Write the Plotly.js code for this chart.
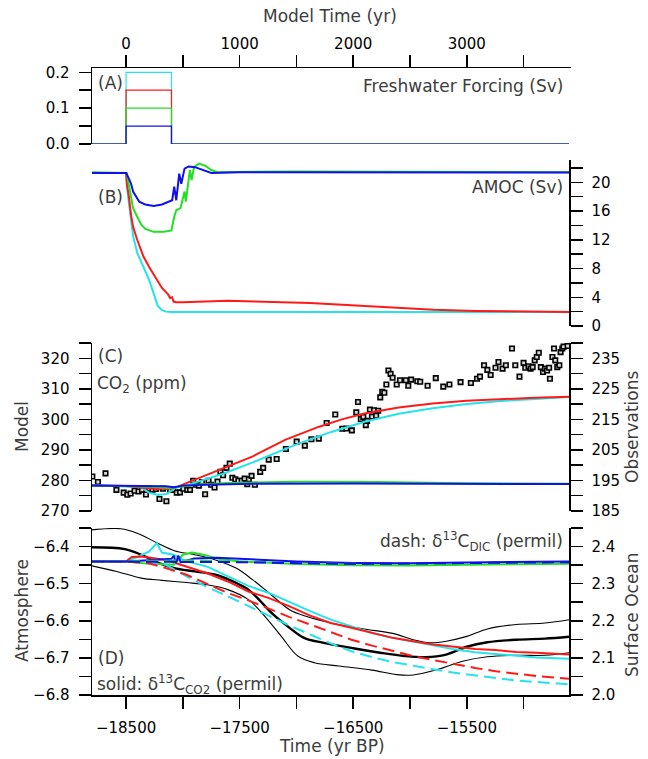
<!DOCTYPE html>
<html><head><meta charset="utf-8">
<script src="https://cdn.plot.ly/plotly-3.0.1.min.js"></script>
<style>html,body{margin:0;padding:0;background:#fff}#chart{width:648px;height:759px}</style>
</head><body><div id="chart"></div>
<script>
// ---------- colours ----------
const colCyan = '#22e4ea', colRed = '#ff1a1a', colGreen = '#22e022', colBlue = '#1010ee';

// ---------- Panel A: freshwater forcing (model years, Sv) ----------
const forcingTime  = [-300, 0, 0, 400, 400, 3900];
const forcingCyan  = [0, 0, 0.20, 0.20, 0, 0];
const forcingRed   = [0, 0, 0.15, 0.15, 0, 0];
const forcingGreen = [0, 0, 0.10, 0.10, 0, 0];
const forcingBlue  = [0, 0, 0.05, 0.05, 0, 0];

// ---------- Panel B: AMOC (model years, Sv) ----------
const amocBlueT  = [-300,0,25,44,62,116,170,243,316,388,406,424,442,468,486,515,551,606,678,751,1000,2000,3000,3900];
const amocBlue   = [21.3,21.3,20.5,19.8,18.7,17.3,16.9,16.7,16.9,17.3,17.5,19.4,17.5,21.2,19.8,21.9,22.2,22.1,21.7,21.3,21.4,21.4,21.35,21.35];
const amocGreenT = [-300,0,7,25,44,62,98,134,170,243,334,399,424,442,479,497,515,526,551,562,577,598,642,696,751,805,1500,2500,3900];
const amocGreen  = [21.4,21.3,21.3,19.6,18.0,16.4,15.2,14.1,13.5,13.1,13.1,13.3,15.2,16.1,16.4,17.5,18.7,17.3,20.0,21.7,20.3,22.1,22.6,22.3,21.7,21.4,21.5,21.45,21.4];
const amocRedT   = [-300,0,7,25,44,62,98,152,207,261,316,370,388,406,418,440,500,896,1258,1621,1984,2347,2709,3072,3435,3900];
const amocRed    = [21.3,21.3,19.8,18.0,15.4,13.8,12.0,9.7,8.1,6.7,5.3,4.4,3.9,4.0,3.4,3.3,3.3,3.5,3.4,3.2,2.9,2.6,2.25,2.1,2.0,1.95];
const amocCyanT  = [-300,0,7,25,44,62,98,170,207,250,279,316,352,400,1000,2000,3000,3900];
const amocCyan   = [21.3,21.3,19.4,17.1,14.8,12.5,10.2,7.6,6.25,4.2,2.8,2.2,2.0,1.95,1.95,1.95,1.95,1.95];

// ---------- Panel C: CO2 model (model years, ppm) ----------
const co2BlueT  = [-300,0,200,350,420,500,700,1100,2000,3000,3900];
const co2Blue   = [278.3,278.2,278.0,278.1,277.8,278.3,278.6,278.9,279.0,278.9,278.8];
const co2GreenT = [-300,0,200,380,480,600,900,1500,2200,3000,3900];
const co2Green  = [278.3,278.2,277.9,277.5,278.0,278.6,279.2,279.6,279.5,279.1,278.9];
const co2RedT   = [-300,0,150,270,380,446,563,854,1116,1400,1700,1900,2100,2400,2700,3000,3300,3600,3900];
const co2Red    = [278.3,278.2,277.6,277.2,277.3,277.8,279.6,284.0,287.9,293.3,297.6,300.0,301.9,303.9,305.2,306.1,306.7,307.1,307.4];
const co2CyanT  = [-300,0,125,200,283,360,431,563,854,1116,1248,1500,1800,2100,2400,2700,3000,3300,3600,3900];
const co2Cyan   = [278.3,278.2,278.0,276.0,275.2,275.6,277.5,278.8,282.2,285.9,288.0,291.8,295.8,299.2,301.8,303.6,305.0,306.0,306.7,307.3];

// ---------- Panel C: CO2 observations (yr BP, ppm) ----------
const obsYearBP = [-18797,-18748,-18681,-18585,-18521,-18489,-18460,-18425,-18390,-18360,-18325,-18296,-18267,-18238,-18206,-18176,-18145,-18112,-18084,-18054,-18025,-17996,-17961,-17937,-17909,-17885,-17859,-17832,-17804,-17774,-17751,-17721,-17695,-17669,-17646,-17616,-17587,-17564,-17538,-17511,-17482,-17456,-17433,-17419,-17395,-17366,-17319,-17293,-17244,-17174,
  -17093,-16998,-16926,-16868,-16803,-16734,-16658,-16596,-16560,-16512,-16473,-16458,-16433,-16411,-16389,-16378,-16353,-16335,-16317,-16298,-16280,-16262,-16244,-16226,-16208,-16190,-16171,-16153,-16117,-16088,-16037,-16015,-15990,-15936,-15910,-15845,-15773,-15707,-15653,-15555,-15464,-15410,-15384,-15348,-15319,-15290,-15247,-15221,-15185,-15156,-15102,-15073,-15036,-15000,-14985,-14956,-14938,-14920,-14902,-14884,-14866,-14848,-14829,-14811,-14793,-14775,-14768,-14746,-14732,-14721,-14703,-14685,-14674,-14659,-14648,-14612];
const obsCO2 = [196.3,194.5,197.3,191.9,191.0,190.3,190.7,191.6,191.4,191.9,190.4,192.3,192.0,192.2,188.9,192.3,188.2,191.9,191.9,191.0,191.1,192.3,191.9,191.9,194.9,193.6,193.3,194.5,190.5,194.9,193.6,192.7,194.6,197.8,196.7,199.1,200.5,195.9,195.4,194.9,194.9,195.6,193.8,195.4,196.5,193.6,197.8,199.1,201.8,202.0,
  205.3,207.7,206.4,208.5,208.7,213.8,216.6,211.9,212.0,211.4,217.3,220.7,215.1,215.8,213.1,214.5,218.2,215.9,218.0,216.2,217.8,222.2,224.0,223.7,226.4,231.0,229.9,228.6,226.4,227.8,227.8,226.0,228.0,227.5,227.3,226.0,228.5,225.7,226.4,227.2,226.9,228.3,229.0,232.7,231.2,229.5,231.9,233.8,231.6,232.7,238.2,232.7,229.0,233.5,231.9,232.4,231.6,232.1,234.3,235.4,236.8,232.1,230.5,231.6,231.0,231.9,228.3,235.4,238.2,234.3,232.1,232.7,237.0,238.2,238.8,239.0];

// ---------- Panel D: d13C model, solid = atmosphere (left axis), dash = surface ocean DIC (right axis) ----------
const d13cRedT   = [-300,0,50,134,352,533,714,896,1077,1258,1440,1621,1802,1984,2165,2347,2528,2709,2891,3072,3253,3435,3616,3900];
const d13cRed    = [-6.44,-6.44,-6.428,-6.427,-6.436,-6.454,-6.472,-6.494,-6.521,-6.539,-6.561,-6.586,-6.606,-6.619,-6.633,-6.646,-6.655,-6.664,-6.670,-6.676,-6.679,-6.684,-6.686,-6.691];
const d13cCyanT  = [-300,0,100,200,272,315,420,533,714,896,1077,1258,1440,1621,1802,1984,2165,2347,2528,2709,2891,3072,3253,3435,3616,3900];
const d13cCyan   = [-6.44,-6.44,-6.428,-6.414,-6.391,-6.416,-6.422,-6.440,-6.454,-6.480,-6.506,-6.525,-6.550,-6.574,-6.597,-6.615,-6.633,-6.646,-6.657,-6.668,-6.677,-6.685,-6.690,-6.695,-6.699,-6.702];
const d13cGreenT = [-300,0,150,300,420,500,580,680,800,1000,1500,2000,2500,3000,3500,3900];
const d13cGreen  = [-6.44,-6.44,-6.445,-6.447,-6.449,-6.422,-6.416,-6.422,-6.432,-6.440,-6.447,-6.450,-6.451,-6.449,-6.447,-6.446];
const d13cBlueT  = [-300,0,200,400,420,440,460,480,600,800,1000,1500,2000,2500,3000,3900];
const d13cBlue   = [-6.44,-6.44,-6.437,-6.433,-6.425,-6.445,-6.424,-6.442,-6.432,-6.430,-6.433,-6.440,-6.444,-6.445,-6.443,-6.440];

const dicRedT   = [-300,0,200,350,533,714,896,1077,1258,1440,1621,1802,1984,2165,2347,2528,2709,2891,3072,3253,3435,3616,3900];
const dicRed    = [2.36,2.36,2.355,2.342,2.324,2.300,2.275,2.255,2.232,2.210,2.190,2.169,2.149,2.133,2.118,2.105,2.094,2.083,2.073,2.064,2.057,2.051,2.044];
const dicCyanT  = [-300,0,200,350,533,714,896,1077,1258,1440,1621,1802,1984,2165,2347,2528,2709,2891,3072,3253,3435,3616,3900];
const dicCyan   = [2.36,2.36,2.355,2.351,2.320,2.291,2.266,2.239,2.212,2.187,2.163,2.139,2.118,2.102,2.089,2.078,2.069,2.060,2.053,2.046,2.039,2.035,2.029];
const dicGreenT = [-300,600,1500,2500,3900];
const dicGreen  = [2.36,2.363,2.355,2.352,2.356];
const dicBlueT  = [-300,1000,2000,3000,3900];
const dicBlue   = [2.36,2.358,2.353,2.355,2.358];

// ---------- Panel D: d13C of CO2 observations (yr BP, permil) ----------
const iceMidBP  = [-18800,-18511,-18366,-18221,-18076,-17894,-17713,-17532,-17423,-17314,-17205,-17060,-16933,-16770,-16516,-16262,-16045,-15863,-15682,-15500,-15319,-15065,-14811,-14600];
const iceMid    = [-6.402,-6.407,-6.422,-6.443,-6.458,-6.467,-6.476,-6.498,-6.516,-6.548,-6.583,-6.619,-6.646,-6.659,-6.673,-6.686,-6.695,-6.698,-6.691,-6.670,-6.658,-6.651,-6.648,-6.643];
const iceHighBP = [-18800,-18547,-18402,-18221,-18076,-17894,-17713,-17532,-17387,-17241,-17060,-16915,-16697,-16407,-16153,-15972,-15827,-15682,-15500,-15319,-15065,-14811,-14600];
const iceHigh   = [-6.355,-6.352,-6.364,-6.391,-6.411,-6.422,-6.436,-6.458,-6.489,-6.525,-6.570,-6.588,-6.606,-6.622,-6.634,-6.651,-6.659,-6.655,-6.642,-6.622,-6.610,-6.606,-6.597];
const iceLowBP  = [-18800,-18583,-18366,-18184,-17967,-17785,-17604,-17423,-17278,-17133,-16988,-16842,-16625,-16335,-16117,-15972,-15754,-15537,-15319,-15065,-14811,-14600];
const iceLow    = [-6.452,-6.467,-6.485,-6.491,-6.497,-6.503,-6.516,-6.543,-6.588,-6.642,-6.695,-6.713,-6.722,-6.733,-6.745,-6.746,-6.731,-6.709,-6.697,-6.693,-6.693,-6.686];

// ---------- helpers ----------
function line(x, y, xa, ya, color, width, dash, shape) {
  return {type:'scatter', mode:'lines', x:x, y:y, xaxis:xa, yaxis:ya,
    line:{color:color, width:width, dash:dash||'solid', shape:shape||'linear'}, hoverinfo:'skip'};
}
const DASH = '12px,6px';
const traces = [
  // A
  line(forcingTime, forcingCyan,  'x2','y6', colCyan, 1.2),
  line(forcingTime, forcingRed,   'x2','y6', colRed, 1.2),
  line(forcingTime, forcingGreen, 'x2','y6', colGreen, 1.2),
  line(forcingTime, forcingBlue,  'x2','y6', colBlue, 1.2),
  // B
  line(amocCyanT, amocCyan,   'x2','y5', colCyan, 2),
  line(amocRedT, amocRed,     'x2','y5', colRed, 2),
  line(amocGreenT, amocGreen, 'x2','y5', colGreen, 2),
  line(amocBlueT, amocBlue,   'x2','y5', colBlue, 2),
  // C
  line(co2CyanT, co2Cyan,   'x2','y3', colCyan, 2),
  line(co2RedT, co2Red,     'x2','y3', colRed, 2),
  line(co2GreenT, co2Green, 'x2','y3', colGreen, 2),
  line(co2BlueT, co2Blue,   'x2','y3', colBlue, 2),
  {type:'scatter', mode:'markers', x:obsYearBP, y:obsCO2, xaxis:'x', yaxis:'y4', hoverinfo:'skip',
   marker:{symbol:'square', size:4.5, color:'#d8d8d8', line:{color:'#000', width:1.6}}},
  // D dashed (right axis)
  line(dicCyanT, dicCyan,   'x2','y2', colCyan, 2, DASH),
  line(dicRedT, dicRed,     'x2','y2', colRed, 2, DASH),
  line(dicGreenT, dicGreen, 'x2','y2', colGreen, 2, DASH),
  line(dicBlueT, dicBlue,   'x2','y2', colBlue, 2, DASH),
  // D solid
  line(d13cCyanT, d13cCyan,   'x2','y', colCyan, 2),
  line(d13cRedT, d13cRed,     'x2','y', colRed, 2),
  line(d13cGreenT, d13cGreen, 'x2','y', colGreen, 2),
  line(d13cBlueT, d13cBlue,   'x2','y', colBlue, 2),
  // D observations
  line(iceHighBP, iceHigh, 'x','y', '#000', 1.1, 'solid', 'spline'),
  line(iceLowBP, iceLow,   'x','y', '#000', 1.1, 'solid', 'spline'),
  line(iceMidBP, iceMid,   'x','y', '#000', 2.4, 'solid', 'spline')
];

const tickFont = {family:'DejaVu Sans', size:15, color:'#000'};
function ax(extra, minorDtick) {
  return Object.assign({showgrid:false, zeroline:false, showline:true, linecolor:'#000', linewidth:1.5,
    ticks:'outside', ticklen:12, tickwidth:1.5, tickcolor:'#000', tickfont:tickFont, ticklabelstandoff:6,
    fixedrange:true,
    minor:{dtick:minorDtick, ticks:'outside', ticklen:12, tickwidth:1.5, tickcolor:'#000', showgrid:false}}, extra);
}
const titleFont = {family:'DejaVu Sans', size:17, color:'#3c3c3c'};
// pixel -> paper helpers (plot area 92..569 x 68..695)
const px = v => (v - 92) / 477;
const py = v => (695 - v) / 627;
function ann(text, x, y, xanchor, angle) {
  return {text:text, x:px(x), y:py(y), xref:'paper', yref:'paper', showarrow:false,
    xanchor:xanchor||'center', yanchor:'middle', textangle:angle||0, font:titleFont};
}

const layout = {
  width:648, height:759, margin:{l:92, r:79, t:68, b:64},
  paper_bgcolor:'#fff', plot_bgcolor:'rgba(0,0,0,0)', showlegend:false,
  xaxis:  ax({domain:[0,1], anchor:'y', range:[-18800,-14600], tick0:-18500, dtick:1000, tickformat:'d'}, 500),
  xaxis2: ax({overlaying:'x', side:'top', anchor:'y6', range:[-300,3900], tick0:0, dtick:1000, tickformat:'d', ticklabelstandoff:0}, 500),
  yaxis:  ax({domain:[0,0.2663], anchor:'x', range:[-6.8,-6.35], tick0:-6.8, dtick:0.1, tickformat:'.1f'}, 0.05),
  yaxis2: ax({overlaying:'y', side:'right', anchor:'x', range:[2.0,2.45], tick0:2.0, dtick:0.1, tickformat:'.1f'}, 0.05),
  yaxis3: ax({domain:[0.2935,0.5614], anchor:'x', range:[270,325], tick0:270, dtick:10}, 5),
  yaxis4: ax({overlaying:'y3', side:'right', anchor:'x', range:[185,240], tick0:185, dtick:10}, 5),
  yaxis5: ax({domain:[0.5885,0.8533], anchor:'x', side:'right', range:[0,23.1], tick0:0, dtick:4}, 2),
  yaxis6: ax({domain:[0.8788,1], anchor:'x', range:[0,0.212], tick0:0, dtick:0.1, tickformat:'.1f'}, 0.05),
  annotations:[
    ann('Model Time (yr)', 330, 16),
    ann('Time (yr BP)', 332, 746),
    ann('Model', 22, 427, 'center', -90),
    ann('Observations', 632, 427, 'center', -90),
    ann('Atmosphere', 22, 611, 'center', -90),
    ann('Surface Ocean', 632, 615, 'center', -90),
    ann('(A)', 96, 83, 'left'),
    ann('Freshwater Forcing (Sv)', 565, 86, 'right'),
    ann('(B)', 96, 197, 'left'),
    ann('AMOC (Sv)', 565, 187, 'right'),
    ann('(C)', 96, 356, 'left'),
    ann('CO<sub>2</sub> (ppm)', 95, 384, 'left'),
    ann('dash: δ<sup>13</sup>C<sub>DIC</sub> (permil)', 565, 541, 'right'),
    ann('(D)', 96, 658, 'left'),
    ann('solid: δ<sup>13</sup>C<sub>CO2</sub> (permil)', 95, 684, 'left')
  ]
};
Plotly.newPlot('chart', traces, layout, {staticPlot:true, displayModeBar:false});
</script></body></html>
